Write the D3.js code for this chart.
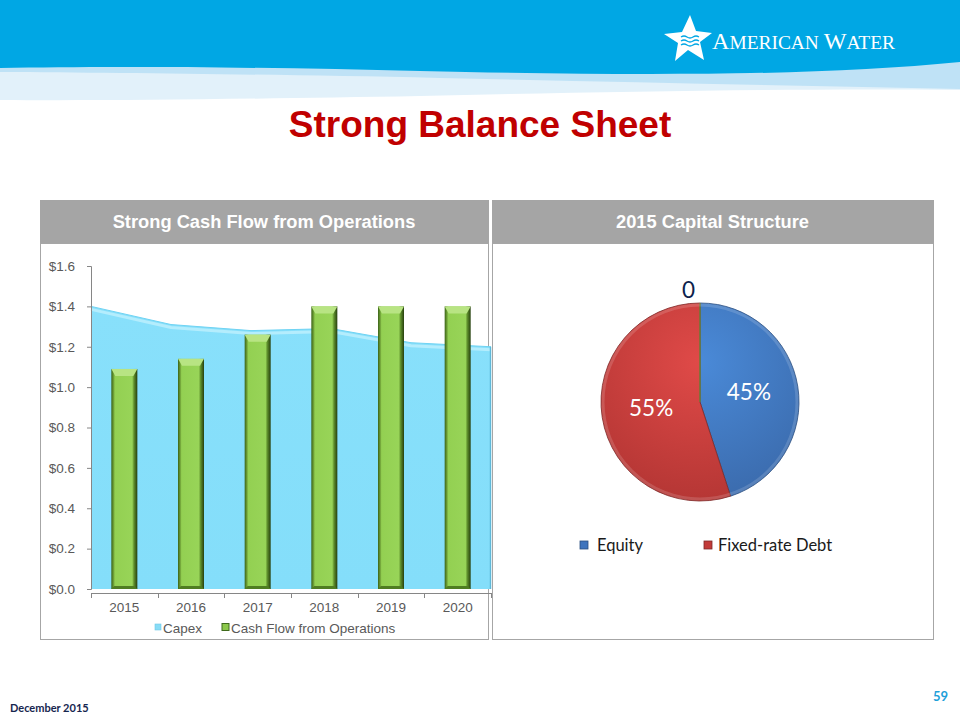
<!DOCTYPE html>
<html>
<head>
<meta charset="utf-8">
<script src="https://cdn.jsdelivr.net/npm/d3@7"></script>
<style>
  html, body { margin: 0; padding: 0; background: #ffffff; }
  svg { display: block; }
</style>
</head>
<body>
<svg id="slide" width="960" height="720"></svg>
<script>
// ---------- DATA ----------
const years = ["2015", "2016", "2017", "2018", "2019", "2020"];
const capex = [1.40, 1.31, 1.28, 1.29, 1.22, 1.20];          // area series ($B)
const cashFlowOps = [1.09, 1.14, 1.26, 1.40, 1.40, 1.40];    // column series ($B)
const yTickValues = [0, 0.2, 0.4, 0.6, 0.8, 1.0, 1.2, 1.4, 1.6];
const barSeriesNames = ["Capex", "Cash Flow from Operations"];

const capNames = ["Equity", "Fixed-rate Debt", "Other"];
const capValues = [45, 55, 0];
const capLabels = ["45%", "55%", "0"];
const capLegendNames = ["Equity", "Fixed-rate Debt"];

// ---------- SETUP ----------
const svg = d3.select("#slide");
const defs = svg.append("defs");

// ---------- HEADER ----------
svg.append("path")
  .attr("d", "M0,60 H960 V90 C800,88 600,92 420,96 C250,99 100,101 0,100 Z")
  .attr("fill", "#e2f1fa");
svg.append("path")
  .attr("d", "M0,66 C100,66 250,66 400,70 C600,75 800,78 960,60 V89 C800,86 620,82 440,78 C260,74 120,73 0,72 Z")
  .attr("fill", "#bfe2f6");
svg.append("path")
  .attr("d", "M0,0 H960 V62 C820,76 640,76 420,71 C260,67 110,66 0,68 Z")
  .attr("fill", "#00a7e4");

// Logo star
svg.append("polygon")
  .attr("points", "690,15 696,31 712,33 700,42 704,60 688,50 675,61 678,43 664,34 682,32")
  .attr("fill", "#ffffff");
[0, 1, 2].forEach(i => {
  svg.append("path")
    .attr("d", `M681,${37 + i * 4} q3,-2 6,0 t6,0 t6,0`)
    .attr("fill", "none").attr("stroke", "#00a7e4").attr("stroke-width", 1.3);
});
const logo = svg.append("text")
  .attr("x", 712).attr("y", 49)
  .attr("fill", "#ffffff")
  .attr("font-family", "'Liberation Serif', 'DejaVu Serif', serif")
  .attr("textLength", 183).attr("lengthAdjust", "spacingAndGlyphs");
logo.append("tspan").attr("font-size", 23).text("A");
logo.append("tspan").attr("font-size", 18.5).text("MERICAN ");
logo.append("tspan").attr("font-size", 23).text("W");
logo.append("tspan").attr("font-size", 18.5).text("ATER");

// Title
svg.append("text")
  .attr("x", 480).attr("y", 137)
  .attr("text-anchor", "middle")
  .attr("font-family", "Arial, 'Liberation Sans', sans-serif")
  .attr("font-weight", "bold").attr("font-size", 37)
  .attr("fill", "#c00000")
  .text("Strong Balance Sheet");

// ---------- PANELS ----------
function panel(x0, x1, title) {
  svg.append("rect").attr("x", x0 + 0.5).attr("y", 243.5)
    .attr("width", x1 - x0).attr("height", 396)
    .attr("fill", "#ffffff").attr("stroke", "#a6a6a6").attr("stroke-width", 1);
  svg.append("rect").attr("x", x0).attr("y", 200)
    .attr("width", x1 - x0 + 1).attr("height", 43)
    .attr("fill", "#a5a5a5");
  svg.append("text")
    .attr("x", (x0 + x1) / 2).attr("y", 228)
    .attr("text-anchor", "middle")
    .attr("font-family", "Arial, 'Liberation Sans', sans-serif")
    .attr("font-weight", "bold").attr("font-size", 18.3)
    .attr("fill", "#ffffff")
    .text(title);
}
panel(40, 488, "Strong Cash Flow from Operations");
panel(492, 933, "2015 Capital Structure");

// ---------- LEFT CHART ----------
const plotL = 91, plotR = 491;
const y = d3.scaleLinear().domain([0, 1.6]).range([589, 266]);
const xBand = d3.scaleBand().domain(years).range([plotL, plotR]).padding(0);
const xPt = d3.scalePoint().domain(years).range([plotL, plotR]).padding(0);

const chart = svg.append("g");

// Capex area
const capData = years.map((yr, i) => ({ yr, v: capex[i] }));
const areaGen = d3.area().x(d => xPt(d.yr)).y0(y(0)).y1(d => y(d.v));
const lineGen = d3.line().x(d => xPt(d.yr)).y(d => y(d.v));
const areaGrad = defs.append("linearGradient").attr("id", "areaGrad")
  .attr("x1", 0).attr("y1", 0).attr("x2", 0).attr("y2", 1);
areaGrad.append("stop").attr("offset", "0%").attr("stop-color", "#88e0fb");
areaGrad.append("stop").attr("offset", "100%").attr("stop-color", "#84defa");
chart.append("path").datum(capData).attr("d", areaGen).attr("fill", "url(#areaGrad)");
chart.append("path").datum(capData).attr("d", lineGen)
  .attr("fill", "none").attr("stroke", "#b4edfd").attr("stroke-width", 3)
  .attr("transform", "translate(0,3)");
chart.append("path").datum(capData).attr("d", lineGen)
  .attr("fill", "none").attr("stroke", "#6fd3f3").attr("stroke-width", 1);
chart.append("line")
  .attr("x1", xPt(years[years.length - 1]) - 0.5).attr("x2", xPt(years[years.length - 1]) - 0.5)
  .attr("y1", y(capex[capex.length - 1])).attr("y2", y(0))
  .attr("stroke", "#5fb8d8").attr("stroke-width", 1.5);

// Bars (Cash Flow from Operations)
const barGrad = defs.append("linearGradient").attr("id", "barGrad")
  .attr("x1", 0).attr("y1", 0).attr("x2", 1).attr("y2", 0);
[["0%", "#3a6218"], ["8%", "#6a9a33"], ["14%", "#93d052"], ["80%", "#98d458"], ["87%", "#5f8f2c"], ["100%", "#263f0e"]]
  .forEach(([o, c]) => barGrad.append("stop").attr("offset", o).attr("stop-color", c));

const barW = xBand.bandwidth() * 0.39;
const barData = years.map((yr, i) => ({ yr, v: cashFlowOps[i] }));
const bars = chart.selectAll("g.bar").data(barData).enter().append("g").attr("class", "bar");
bars.append("rect")
  .attr("x", d => xBand(d.yr) + (xBand.bandwidth() - barW) / 2)
  .attr("y", d => y(d.v))
  .attr("width", barW)
  .attr("height", d => y(0) - y(d.v))
  .attr("fill", "url(#barGrad)");
// bevel top cap
bars.append("path")
  .attr("d", d => {
    const x0 = xBand(d.yr) + (xBand.bandwidth() - barW) / 2, x1 = x0 + barW, t = y(d.v);
    return `M${x0},${t} L${x1},${t} L${x1 - 4},${t + 7} L${x0 + 4},${t + 7} Z`;
  })
  .attr("fill", "#b8e483");
bars.append("path")
  .attr("d", d => {
    const x0 = xBand(d.yr) + (xBand.bandwidth() - barW) / 2, x1 = x0 + barW, b = y(0);
    return `M${x0},${b} L${x1},${b} L${x1 - 3},${b - 3} L${x0 + 3},${b - 3} Z`;
  })
  .attr("fill", "#4f7d22");

// Y axis
const yAxis = d3.axisLeft(y).tickValues(yTickValues).tickSize(4).tickPadding(12)
  .tickFormat(d => "$" + d.toFixed(1));
const gy = chart.append("g").attr("transform", `translate(${plotL},0)`).call(yAxis);
gy.select(".domain").attr("stroke", "#868686");
gy.selectAll(".tick line").attr("stroke", "#868686");
gy.selectAll(".tick text")
  .attr("font-family", "Arial, 'Liberation Sans', sans-serif")
  .attr("font-size", 13.5).attr("fill", "#595959");

// X axis (ticks between categories, as in Excel)
const axisY = 593;
chart.append("line").attr("x1", plotL).attr("x2", plotR).attr("y1", axisY + 0.5).attr("y2", axisY + 0.5)
  .attr("stroke", "#868686");
const edges = years.map(yr => xBand(yr)).concat([plotR]);
chart.selectAll("line.xt").data(edges).enter().append("line").attr("class", "xt")
  .attr("x1", d => Math.round(d) + 0.5).attr("x2", d => Math.round(d) + 0.5)
  .attr("y1", axisY).attr("y2", axisY + 5).attr("stroke", "#868686");
const gx = chart.append("g").attr("transform", `translate(0,${axisY})`)
  .call(d3.axisBottom(xBand).tickSize(0).tickPadding(9));
gx.select(".domain").remove();
gx.selectAll(".tick text")
  .attr("font-family", "Arial, 'Liberation Sans', sans-serif")
  .attr("font-size", 13.5).attr("fill", "#595959");

// Left legend
const legL = chart.append("g");
const legPos = [{ mx: 155, tx: 163 }, { mx: 222, tx: 231 }];
barSeriesNames.forEach((name, i) => {
  if (i === 0) {
    legL.append("rect").attr("x", legPos[i].mx).attr("y", 624).attr("width", 6).attr("height", 6)
      .attr("fill", "#88dcf6").attr("stroke", "#6fc8e6").attr("stroke-width", 0.6);
  } else {
    legL.append("rect").attr("x", legPos[i].mx).attr("y", 623.5).attr("width", 7).attr("height", 7)
      .attr("fill", "#8cc84b").attr("stroke", "#3f6a1c").attr("stroke-width", 1);
  }
  legL.append("text").attr("x", legPos[i].tx).attr("y", 633)
    .attr("font-family", "Arial, 'Liberation Sans', sans-serif")
    .attr("font-size", 13.5).attr("fill", "#595959").text(name);
});

// ---------- PIE ----------
const cx = 700, cy = 402, R = 99;
const pieG = svg.append("g").attr("transform", `translate(${cx},${cy})`);
const pie = d3.pie().sort(null).value(d => d.v);
const capData2 = capNames.map((n, i) => ({ n, v: capValues[i], label: capLabels[i] }));
const arcs = pie(capData2);
const arc = d3.arc().innerRadius(0).outerRadius(R);
const labelArc = d3.arc().innerRadius(0).outerRadius(R);

const gradBlue = defs.append("radialGradient").attr("id", "gBlue")
  .attr("gradientUnits", "userSpaceOnUse").attr("cx", 0).attr("cy", -40).attr("r", 150);
gradBlue.append("stop").attr("offset", "0%").attr("stop-color", "#4a8ad8");
gradBlue.append("stop").attr("offset", "100%").attr("stop-color", "#3a69aa");
const gradRed = defs.append("radialGradient").attr("id", "gRed")
  .attr("gradientUnits", "userSpaceOnUse").attr("cx", 0).attr("cy", -40).attr("r", 150);
gradRed.append("stop").attr("offset", "0%").attr("stop-color", "#e04a48");
gradRed.append("stop").attr("offset", "100%").attr("stop-color", "#b23533");
const sliceFill = ["url(#gBlue)", "url(#gRed)", "#9bbb59"];
const sliceStroke = ["#2c4f80", "#7e2a28", "#6a8a3a"];

pieG.selectAll("path.slice").data(arcs).enter().append("path").attr("class", "slice")
  .attr("d", arc)
  .attr("fill", (d, i) => sliceFill[i])
  .attr("stroke", (d, i) => sliceStroke[i])
  .attr("stroke-width", 0.8)
  .attr("stroke-linejoin", "round");

// highlight rim (bevel look)
pieG.append("circle").attr("r", R - 2).attr("fill", "none")
  .attr("stroke", "#ffffff").attr("stroke-opacity", 0.15).attr("stroke-width", 3);

pieG.selectAll("text.lbl").data(arcs).enter().append("text").attr("class", "lbl")
  .each(function (d) {
    const t = d3.select(this);
    if (d.data.v > 0) {
      const c = labelArc.centroid(d);
      t.attr("x", c[0]).attr("y", c[1] + 6).attr("text-anchor", "middle")
        .attr("fill", "#ffffff").attr("font-size", 22.5);
    } else {
      const a = d.startAngle;
      const rr = R + 6;
      t.attr("x", Math.sin(a) * rr - 5).attr("y", -Math.cos(a) * rr + 1).attr("text-anchor", "end")
        .attr("fill", "#0e1f4d").attr("font-size", 22.5);
    }
  })
  .attr("font-family", "Lato, 'Open Sans', sans-serif")
  .text(d => d.data.label);

// Pie legend
const legR = svg.append("g");
const legRPos = [{ mx: 580, tx: 597 }, { mx: 704, tx: 718 }];
capLegendNames.forEach((name, i) => {
  legR.append("rect").attr("x", legRPos[i].mx).attr("y", 541).attr("width", 8).attr("height", 8)
    .attr("fill", i === 0 ? "#3f74bd" : "#c23b39")
    .attr("stroke", i === 0 ? "#2c4f80" : "#7e2a28").attr("stroke-width", 0.8);
  legR.append("text").attr("x", legRPos[i].tx).attr("y", 551)
    .attr("font-family", "Lato, 'Open Sans', sans-serif")
    .attr("font-size", 16.5).attr("fill", "#1a1a1a").text(name);
});

// ---------- FOOTER ----------
svg.append("text").attr("x", 10).attr("y", 712)
  .attr("font-family", "Lato, 'Open Sans', sans-serif").attr("font-weight", "bold")
  .attr("font-size", 11).attr("fill", "#16264f").text("December 2015");
svg.append("text").attr("x", 948).attr("y", 701).attr("text-anchor", "end")
  .attr("font-family", "Lato, 'Open Sans', sans-serif").attr("font-weight", "bold")
  .attr("font-size", 13).attr("fill", "#1f9fd9").text("59");
</script>
</body>
</html>
